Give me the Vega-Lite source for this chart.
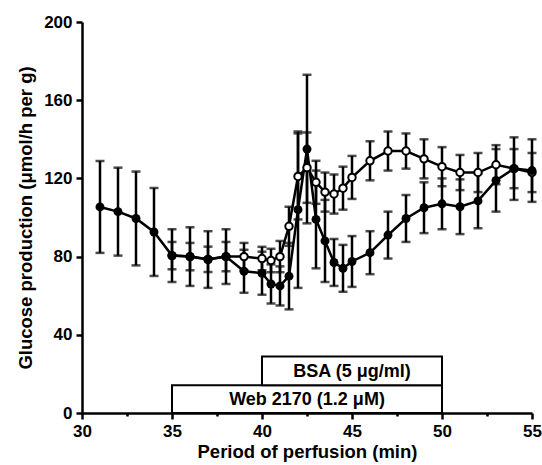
{
  "$schema": "https://vega.github.io/schema/vega-lite/v6.json",
  "autosize": "none",
  "width": 450,
  "height": 391,
  "padding": {"left": 82, "top": 22, "right": 10, "bottom": 52},
  "background": "white",
  "config": {
    "view": {"stroke": null},
    "font": "Liberation Sans",
    "axis": {
      "domainColor": "black", "domainWidth": 2.5, "tickColor": "black", "tickWidth": 2.5,
      "grid": false, "labelFont": "Liberation Sans", "labelFontSize": 17, "labelFontWeight": "bold",
      "labelColor": "black", "titleFont": "Liberation Sans", "titleFontSize": 18.5,
      "titleFontWeight": "bold", "titleColor": "black"
    }
  },
  "datasets": {
    "series": [
      {"t": 31, "s": "filled", "v": 105.4, "e": 23.5},
      {"t": 32, "s": "filled", "v": 103, "e": 22.5},
      {"t": 33, "s": "filled", "v": 99.5, "e": 24},
      {"t": 34, "s": "filled", "v": 92.6, "e": 22.5},
      {"t": 35, "s": "filled", "v": 80.5, "e": 13.5},
      {"t": 36, "s": "filled", "v": 80, "e": 15},
      {"t": 37, "s": "filled", "v": 78.5, "e": 14.5},
      {"t": 38, "s": "filled", "v": 80, "e": 14},
      {"t": 39, "s": "filled", "v": 72.5, "e": 11},
      {"t": 40, "s": "filled", "v": 71.5, "e": 11},
      {"t": 40.5, "s": "filled", "v": 66, "e": 10},
      {"t": 41, "s": "filled", "v": 65, "e": 10},
      {"t": 41.5, "s": "filled", "v": 70, "e": 17},
      {"t": 42, "s": "filled", "v": 104, "e": 40},
      {"t": 42.5, "s": "filled", "v": 135, "e": 38},
      {"t": 43, "s": "filled", "v": 99, "e": 25},
      {"t": 43.5, "s": "filled", "v": 88, "e": 21},
      {"t": 44, "s": "filled", "v": 77, "e": 12},
      {"t": 44.5, "s": "filled", "v": 74, "e": 12},
      {"t": 45, "s": "filled", "v": 77.5, "e": 13},
      {"t": 46, "s": "filled", "v": 82, "e": 11},
      {"t": 47, "s": "filled", "v": 91, "e": 12},
      {"t": 48, "s": "filled", "v": 99.5, "e": 12},
      {"t": 49, "s": "filled", "v": 105, "e": 13},
      {"t": 50, "s": "filled", "v": 107, "e": 13},
      {"t": 51, "s": "filled", "v": 105.5, "e": 14},
      {"t": 52, "s": "filled", "v": 108.5, "e": 14},
      {"t": 53, "s": "filled", "v": 119, "e": 16},
      {"t": 54, "s": "filled", "v": 125, "e": 16},
      {"t": 55, "s": "filled", "v": 124, "e": 16},
      {"t": 35, "s": "open", "v": 80.5, "e": 7},
      {"t": 36, "s": "open", "v": 80, "e": 7},
      {"t": 37, "s": "open", "v": 78.6, "e": 6.5},
      {"t": 38, "s": "open", "v": 80, "e": 7.5},
      {"t": 39, "s": "open", "v": 80, "e": 7},
      {"t": 40, "s": "open", "v": 79, "e": 6},
      {"t": 40.5, "s": "open", "v": 78, "e": 6},
      {"t": 41, "s": "open", "v": 80, "e": 8},
      {"t": 41.5, "s": "open", "v": 95.5, "e": 10},
      {"t": 42, "s": "open", "v": 121, "e": 22},
      {"t": 42.5, "s": "open", "v": 125.5, "e": 18},
      {"t": 43, "s": "open", "v": 118, "e": 11},
      {"t": 43.5, "s": "open", "v": 113, "e": 10},
      {"t": 44, "s": "open", "v": 112, "e": 10},
      {"t": 44.5, "s": "open", "v": 115, "e": 11},
      {"t": 45, "s": "open", "v": 120.5, "e": 11},
      {"t": 46, "s": "open", "v": 129, "e": 10},
      {"t": 47, "s": "open", "v": 134, "e": 10},
      {"t": 48, "s": "open", "v": 134, "e": 9},
      {"t": 49, "s": "open", "v": 130, "e": 10},
      {"t": 50, "s": "open", "v": 126, "e": 10},
      {"t": 51, "s": "open", "v": 123, "e": 9},
      {"t": 52, "s": "open", "v": 123, "e": 10},
      {"t": 53, "s": "open", "v": 127, "e": 10},
      {"t": 54, "s": "open", "v": 125, "e": 10},
      {"t": 55, "s": "open", "v": 123, "e": 10}
    ],
    "boxes": [
      {"label": "Web 2170 (1.2 μM)", "t": 35, "t2": 50, "tc": 42.5, "v": 0, "v2": 14.2, "vc": 7.1},
      {"label": "BSA (5 μg/ml)", "t": 40, "t2": 50, "tc": 45, "v": 14.2, "v2": 28.9, "vc": 21.5}
    ]
  },
  "layer": [
    {
      "data": {"name": "boxes"},
      "mark": {"type": "rect", "fill": "white", "stroke": "black", "strokeWidth": 2},
      "encoding": {
        "x": {"field": "t", "type": "quantitative", "scale": {"domain": [30, 55], "nice": false},
          "title": "Period of perfusion (min)",
          "axis": {"values": [30, 32.5, 35, 37.5, 40, 42.5, 45, 47.5, 50, 52.5, 55],
            "labelExpr": "datum.value % 5 === 0 ? datum.label : ''",
            "tickSize": {"condition": {"test": "datum.value % 5 === 0", "value": 6}, "value": 3},
            "labelPadding": 4, "titlePadding": 3, "labelFlush": false}},
        "x2": {"field": "t2"},
        "y": {"field": "v", "type": "quantitative", "scale": {"domain": [0, 200], "nice": false},
          "title": "Glucose production (μmol/h per g)",
          "axis": {"values": [0, 20, 40, 60, 80, 100, 120, 140, 160, 180, 200],
            "labelExpr": "datum.value % 40 === 0 ? datum.label : ''",
            "tickSize": {"condition": {"test": "datum.value % 40 === 0", "value": 6}, "value": 3},
            "labelPadding": 4, "titlePadding": 8}},
        "y2": {"field": "v2"}
      }
    },
    {
      "data": {"name": "boxes"},
      "mark": {"type": "text", "fontSize": 18, "fontWeight": "bold", "font": "Liberation Sans", "color": "black", "baseline": "middle", "align": "center", "dy": 1},
      "encoding": {
        "x": {"field": "tc", "type": "quantitative", "title": "Period of perfusion (min)"},
        "y": {"field": "vc", "type": "quantitative", "title": "Glucose production (μmol/h per g)"},
        "text": {"field": "label"}
      }
    },
    {
      "data": {"name": "series"},
      "mark": {"type": "errorbar", "color": "black", "thickness": 2.5, "ticks": {"size": 9, "thickness": 2.5, "color": "black"}},
      "encoding": {
        "x": {"field": "t", "type": "quantitative", "title": "Period of perfusion (min)"},
        "y": {"field": "v", "type": "quantitative", "title": "Glucose production (μmol/h per g)"},
        "yError": {"field": "e"},
        "detail": {"field": "s"}
      }
    },
    {
      "data": {"name": "series"},
      "mark": {"type": "line", "color": "black", "strokeWidth": 2.5},
      "encoding": {
        "x": {"field": "t", "type": "quantitative", "title": "Period of perfusion (min)"},
        "y": {"field": "v", "type": "quantitative", "title": "Glucose production (μmol/h per g)"},
        "detail": {"field": "s"}
      }
    },
    {
      "data": {"name": "series"},
      "transform": [{"filter": "datum.s === 'open'"}],
      "mark": {"type": "point", "shape": "circle", "filled": false, "fill": "white", "stroke": "black", "strokeWidth": 2, "size": 55, "opacity": 1},
      "encoding": {
        "x": {"field": "t", "type": "quantitative", "title": "Period of perfusion (min)"},
        "y": {"field": "v", "type": "quantitative", "title": "Glucose production (μmol/h per g)"}
      }
    },
    {
      "data": {"name": "series"},
      "transform": [{"filter": "datum.s === 'filled'"}],
      "mark": {"type": "point", "shape": "circle", "filled": true, "color": "black", "size": 80, "opacity": 1},
      "encoding": {
        "x": {"field": "t", "type": "quantitative", "title": "Period of perfusion (min)"},
        "y": {"field": "v", "type": "quantitative", "title": "Glucose production (μmol/h per g)"}
      }
    }
  ]
}
